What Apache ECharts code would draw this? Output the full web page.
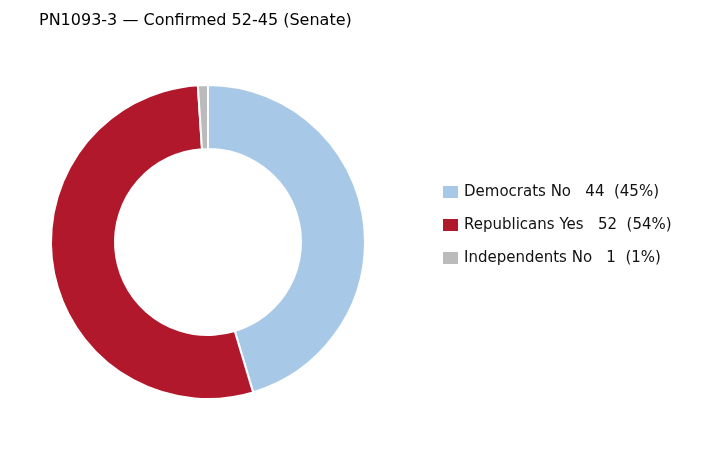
<!DOCTYPE html>
<html><head><meta charset="utf-8">
<script src="https://cdn.jsdelivr.net/npm/echarts@6/dist/echarts.min.js"></script>
<style>html,body{margin:0;padding:0;background:#fff}#c{width:702px;height:450px}</style>
</head><body><div id="c"></div>
<script>
const categories = ["Democrats No", "Republicans Yes", "Independents No"];
const values = [44, 52, 1];
const colors = ["#a8c8e8", "#b2182b", "#bbbbbb"];
const total = values.reduce((a, b) => a + b, 0);
const chart = echarts.init(document.getElementById('c'));
chart.setOption({
  animation: false,
  title: { text: "PN1093-3 — Confirmed 52-45 (Senate)", left: 34, top: 8,
    textStyle: { fontFamily: "DejaVu Sans", fontSize: 16, fontWeight: "normal", color: "#000" } },
  legend: {
    orient: "vertical", left: 436, top: 'middle', itemWidth: 17, itemHeight: 14, itemGap: 17,
    icon: "rect",
    textStyle: { fontFamily: "DejaVu Sans", fontSize: 15, color: "#111" },
    formatter: name => {
      const i = categories.indexOf(name);
      return name + "   " + values[i] + "  (" + Math.round(values[i] / total * 100) + "%)";
    }
  },
  series: [{
    type: "pie", center: [208, 242], radius: [93, 157], startAngle: 90, clockwise: true,
    label: { show: false }, labelLine: { show: false },
    itemStyle: { borderColor: "#fff", borderWidth: 2 },
    data: categories.map((n, i) => ({ name: n, value: values[i], itemStyle: { color: colors[i] } }))
  }]
});
</script></body></html>
